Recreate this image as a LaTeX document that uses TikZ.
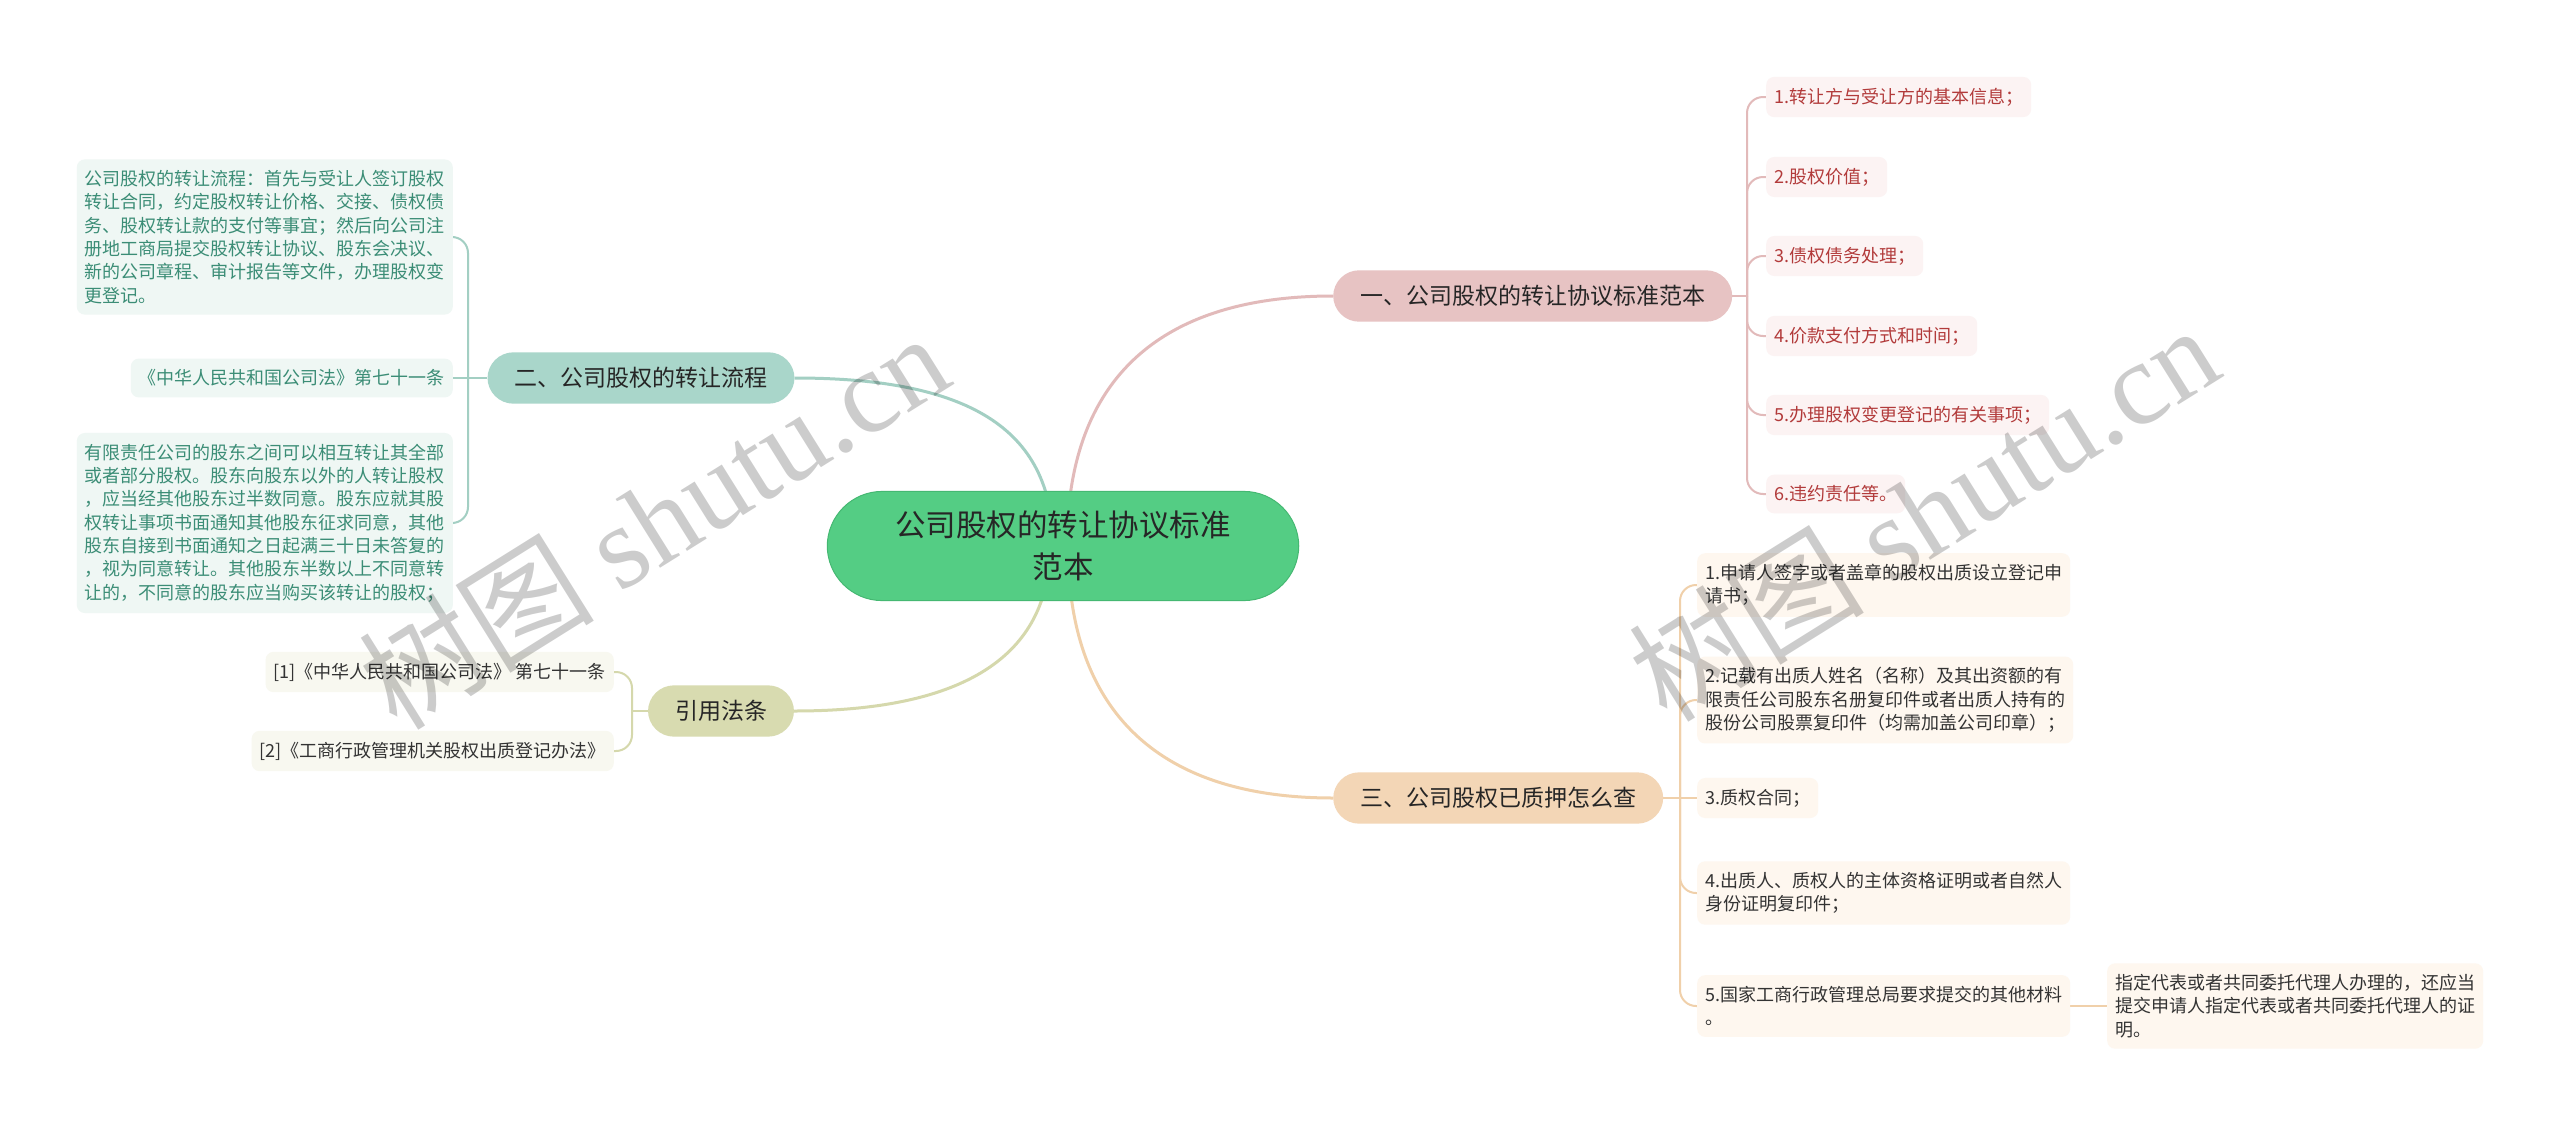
\documentclass[tikz,border=0pt]{standalone}
\usepackage{fontspec}
\setmainfont{Noto Sans CJK SC}
\newfontfamily\wmlatin{Liberation Serif}
\usetikzlibrary{backgrounds}
\definecolor{rootfill}{HTML}{54CD84}
\definecolor{rootdraw}{HTML}{45B872}
\definecolor{textdark}{HTML}{262626}
\definecolor{pinkmain}{HTML}{E7C3C3}
\definecolor{tealmain}{HTML}{A9D6CA}
\definecolor{tanmain}{HTML}{F3D6B6}
\definecolor{olivemain}{HTML}{D8DBB0}
\definecolor{pinkline}{HTML}{E2BABA}
\definecolor{tealline}{HTML}{A3CFC3}
\definecolor{tanline}{HTML}{F0D0AA}
\definecolor{oliveline}{HTML}{D5D8AC}
\definecolor{pinkpale}{HTML}{FCF3F3}
\definecolor{tealpale}{HTML}{EFF7F4}
\definecolor{tanpale}{HTML}{FEF7EF}
\definecolor{olivepale}{HTML}{F8F8F0}
\definecolor{pinktext}{HTML}{B23B3B}
\definecolor{tealtext}{HTML}{3B8D76}
\definecolor{leaftext}{HTML}{333333}
\tikzstyle{centre} = [rectangle, rounded corners=55pt, fill=rootfill, draw=rootdraw, line width=1pt, text=textdark, align=center, inner xsep=68pt, inner ysep=19.5pt, font=\fontsize{30.5}{42}\selectfont]
\tikzstyle{branch} = [rectangle, rounded corners=26pt, text=textdark, inner xsep=27pt, inner ysep=15pt, font=\fontsize{23}{28}\selectfont]
\tikzstyle{leaf} = [rectangle, rounded corners=8pt, align=left, inner xsep=8pt, inner ysep=11pt, font=\fontsize{18}{23.3}\selectfont]
\tikzstyle{pinkleaf} = [leaf, fill=pinkpale, text=pinktext, anchor=west]
\tikzstyle{tealleaf} = [leaf, fill=tealpale, text=tealtext, anchor=east]
\tikzstyle{tanleaf} = [leaf, fill=tanpale, text=leaftext, anchor=west]
\tikzstyle{oliveleaf} = [leaf, fill=olivepale, text=leaftext, anchor=east]
\tikzstyle{link} = [line width=3pt]
\tikzstyle{twig} = [line width=2pt, rounded corners=16pt]
\tikzstyle{wmtext} = [rotate=32, text=black, text opacity=0.2, font=\fontsize{118}{118}\selectfont]

\begin{document}
\begin{tikzpicture}[x=1pt, y=-1pt]
  \useasboundingbox (0,0) rectangle (2560,1127);
  \node (root) [centre] at (1063,546) {公司股权的转让协议标准\\范本};
  \node (b1) [branch, fill=pinkmain, anchor=west] at (1333,296) {一、公司股权的转让协议标准范本};
  \node (b2) [branch, fill=tealmain] at (641,378) {二、公司股权的转让流程};
  \node (b3) [branch, fill=tanmain, anchor=west] at (1333,798) {三、公司股权已质押怎么查};
  \node (b4) [branch, fill=olivemain] at (721,711) {引用法条};

  % leaves of branch one
  \node (p1) [pinkleaf] at (1766,97) {1.转让方与受让方的基本信息；};
  \node (p2) [pinkleaf] at (1766,177) {2.股权价值；};
  \node (p3) [pinkleaf] at (1766,256) {3.债权债务处理；};
  \node (p4) [pinkleaf] at (1766,336) {4.价款支付方式和时间；};
  \node (p5) [pinkleaf] at (1766,415) {5.办理股权变更登记的有关事项；};
  \node (p6) [pinkleaf] at (1766,494) {6.违约责任等。};

  % leaves of branch two
  \node (t1) [tealleaf] at (453,237) {公司股权的转让流程：首先与受让人签订股权\\转让合同，约定股权转让价格、交接、债权债\\务、股权转让款的支付等事宜；然后向公司注\\册地工商局提交股权转让协议、股东会决议、\\新的公司章程、审计报告等文件，办理股权变\\更登记。};
  \node (t2) [tealleaf] at (453,378) {《中华人民共和国公司法》第七十一条};
  \node (t3) [tealleaf] at (453,523) {有限责任公司的股东之间可以相互转让其全部\\或者部分股权。股东向股东以外的人转让股权\\，应当经其他股东过半数同意。股东应就其股\\权转让事项书面通知其他股东征求同意，其他\\股东自接到书面通知之日起满三十日未答复的\\，视为同意转让。其他股东半数以上不同意转\\让的，不同意的股东应当购买该转让的股权；};

  % leaves of branch three
  \node (q1) [tanleaf] at (1697,585) {1.申请人签字或者盖章的股权出质设立登记申\\请书；};
  \node (q2) [tanleaf] at (1697,700) {2.记载有出质人姓名（名称）及其出资额的有\\限责任公司股东名册复印件或者出质人持有的\\股份公司股票复印件（均需加盖公司印章）；};
  \node (q3) [tanleaf] at (1697,798) {3.质权合同；};
  \node (q4) [tanleaf] at (1697,893) {4.出质人、质权人的主体资格证明或者自然人\\身份证明复印件；};
  \node (q5) [tanleaf] at (1697,1006) {5.国家工商行政管理总局要求提交的其他材料\\。};
  \node (q6) [tanleaf] at (2107,1006) {指定代表或者共同委托代理人办理的，还应当\\提交申请人指定代表或者共同委托代理人的证\\明。};

  % leaves of branch four
  \node (r1) [oliveleaf] at (614,672) {[1]《中华人民共和国公司法》 第七十一条};
  \node (r2) [oliveleaf] at (614,751) {[2]《工商行政管理机关股权出质登记办法》};

  \coordinate (s1) at (1747,296);
  \coordinate (s2) at (468,378);
  \coordinate (s3) at (1680,798);
  \coordinate (s4) at (632,711);

  \begin{scope}[on background layer]
    \fill [white] (0,0) rectangle (2560,1127);
    \draw [link, pinkline] ([xshift=4pt]root.center) .. controls +(0,-170) and +(-170,0) .. (b1.west);
    \draw [link, tealline] ([xshift=-10pt]root.center) .. controls +(0,-120) and +(170,0) .. (b2.east);
    \draw [link, tanline] ([xshift=5pt]root.center) .. controls +(0,170) and +(-170,0) .. (b3.west);
    \draw [link, oliveline] ([xshift=-13pt]root.center) .. controls +(0,110) and +(170,0) .. (b4.east);

    \draw [twig, pinkline] (b1.east) -- (s1);
    \foreach \n in {p1,p2,p3,p4,p5,p6}
      \draw [twig, pinkline] (s1) |- (\n.west);

    \draw [twig, tealline] (b2.west) -- (t2.east);
    \foreach \n in {t1,t3}
      \draw [twig, tealline] (s2) |- (\n.east);

    \draw [twig, tanline] (b3.east) -- (q3.west);
    \foreach \n in {q1,q2,q4,q5}
      \draw [twig, tanline] (s3) |- (\n.west);
    \draw [twig, tanline] (q5.east) -- (q6.west);

    \draw [twig, oliveline] (b4.west) -- (s4);
    \foreach \n in {r1,r2}
      \draw [twig, oliveline] (s4) |- (\n.east);
  \end{scope}

  % watermark
  \node (wmleft) [wmtext] at (653,520) {树图 {\wmlatin shutu.cn}};
  \node (wmright) [wmtext] at (1923,512) {树图 {\wmlatin shutu.cn}};
\end{tikzpicture}
\end{document}
